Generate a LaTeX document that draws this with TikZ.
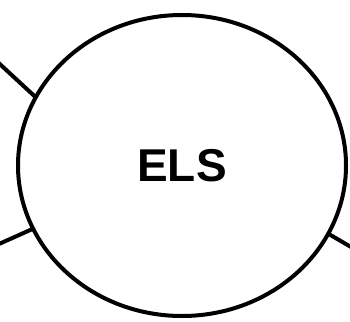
\documentclass[tikz,border=0pt]{standalone}
\usepackage{fontspec}
\setmainfont{Liberation Sans}
\usetikzlibrary{shapes.geometric}
\begin{document}
\begin{tikzpicture}[x=1pt,y=-1pt,
  bubble/.style={ellipse,draw=black,line width=4pt,minimum width=328pt,minimum height=301pt,inner sep=0pt,outer sep=0pt,font=\fontsize{46}{50}\selectfont\bfseries},
  link/.style={draw=black,line width=4pt}]
\useasboundingbox (0,0) rectangle (350,321);
\node[bubble] (els) at (182,165.5) {ELS};
\coordinate (c1) at (-10,55);
\coordinate (c2) at (-10,248);
\coordinate (c3) at (363,254);
\draw[link] (c1) -- (els.155);
\draw[link] (c2) -- (els.203);
\draw[link] (c3) -- (els.335);
\end{tikzpicture}
\end{document}
